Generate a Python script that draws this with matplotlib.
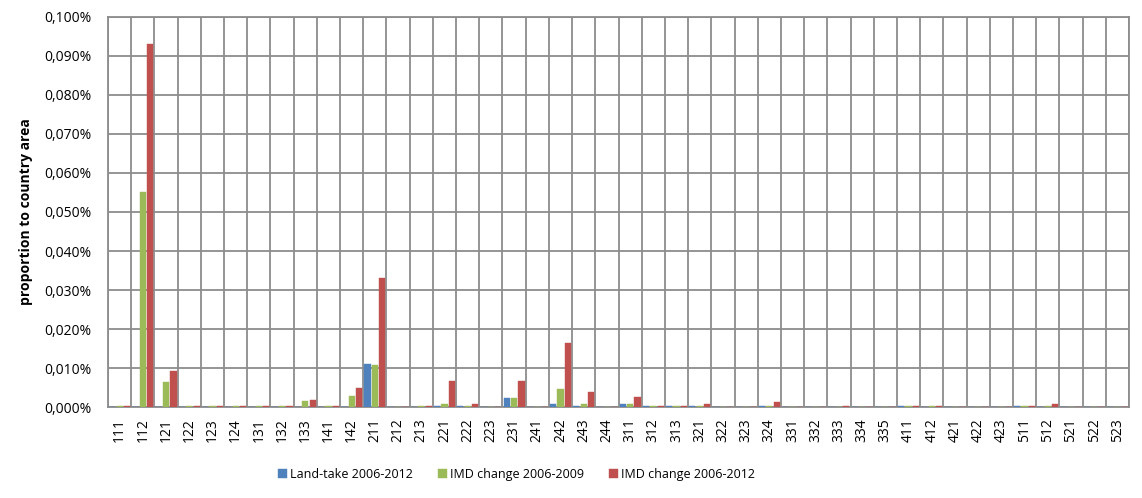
import matplotlib
matplotlib.use("Agg")
import matplotlib.pyplot as plt
import numpy as np

plt.rcParams['font.family'] = ['Open Sans', 'DejaVu Sans']

# CLC classes
categories = ['111', '112', '121', '122', '123', '124', '131', '132', '133', '141', '142',
              '211', '212', '213', '221', '222', '223', '231', '241', '242', '243', '244',
              '311', '312', '313', '321', '322', '323', '324', '331', '332', '333', '334', '335',
              '411', '412', '421', '422', '423', '511', '512', '521', '522', '523']

# values in % of country area
land_take = [0, 0, 0, 0, 0, 0, 0, 0, 0, 0, 0,
             0.0110, 0, 0, 0.0003, 0.0003, 0, 0.0022, 0, 0.0008, 0.0003, 0,
             0.0008, 0.0003, 0.0003, 0.0003, 0, 0, 0.0003, 0, 0, 0, 0, 0,
             0.0003, 0, 0, 0, 0, 0.0003, 0, 0, 0, 0]
imd_2009 = [0.0003, 0.0552, 0.0063, 0.0003, 0.0003, 0.0003, 0.0003, 0.0003, 0.0016, 0.0003, 0.0027,
            0.0107, 0, 0.0003, 0.0008, 0.0003, 0, 0.0022, 0, 0.0045, 0.0008, 0,
            0.0008, 0.0003, 0.0003, 0.0003, 0, 0, 0.0003, 0, 0, 0, 0, 0,
            0.0003, 0.0003, 0, 0, 0, 0.0003, 0.0003, 0, 0, 0]
imd_2012 = [0.0003, 0.0932, 0.0093, 0.0003, 0.0003, 0.0003, 0.0003, 0.0003, 0.0019, 0.0003, 0.0050,
            0.0330, 0, 0.0003, 0.0067, 0.0008, 0, 0.0067, 0, 0.0165, 0.0038, 0,
            0.0026, 0.0003, 0.0003, 0.0008, 0, 0, 0.0012, 0, 0, 0.0003, 0, 0,
            0.0003, 0.0003, 0, 0, 0, 0.0003, 0.0008, 0, 0, 0]

series = [('Land-take 2006-2012', land_take, '#4F81BD'),
          ('IMD change 2006-2009', imd_2009, '#9BBB59'),
          ('IMD change 2006-2012', imd_2012, '#C0504D')]

fig = plt.figure(figsize=(11.42, 4.98), dpi=100)
ax = fig.add_axes([0.0946, 0.1827, 0.894, 0.7832])

x = np.arange(len(categories))
w = 0.27
offsets = [-0.32, 0, 0.32]
for (name, vals, col), off in zip(series, offsets):
    ax.bar(x + off, vals, width=w, color=col, label=name, zorder=3,
           edgecolor=col, linewidth=0.3)

ax.set_xlim(-0.5, len(categories) - 0.5)
ax.set_ylim(0, 0.1)
yt = np.arange(0, 0.1001, 0.01)
ax.set_yticks(yt)
ax.set_yticklabels([f"{v:.3f}%".replace('.', ',') for v in yt], fontsize=10)
ax.set_xticks(x)
ax.set_xticklabels(categories, rotation=90, fontsize=10)
ax.set_xticks(np.arange(-0.5, len(categories), 1), minor=True)

ax.grid(True, which='major', axis='y', color='#8c8c8c', linewidth=1.3, zorder=0)
ax.grid(True, which='minor', axis='x', color='#8c8c8c', linewidth=1.3, zorder=0)
ax.tick_params(axis='y', which='both', length=0, pad=12)
ax.tick_params(axis='x', which='both', length=0, pad=8)
for s in ax.spines.values():
    s.set_color('#8c8c8c')
    s.set_linewidth(1.3)

ax.set_ylabel('proportion to country area', fontsize=10, fontweight='bold', labelpad=8)

ax.legend(loc='center', bbox_to_anchor=(0.40, -0.172), ncol=3, frameon=False,
          fontsize=9, handlelength=0.7, handleheight=0.7, columnspacing=2.0,
          handletextpad=0.25)

fig.savefig('out.png', dpi=100)
